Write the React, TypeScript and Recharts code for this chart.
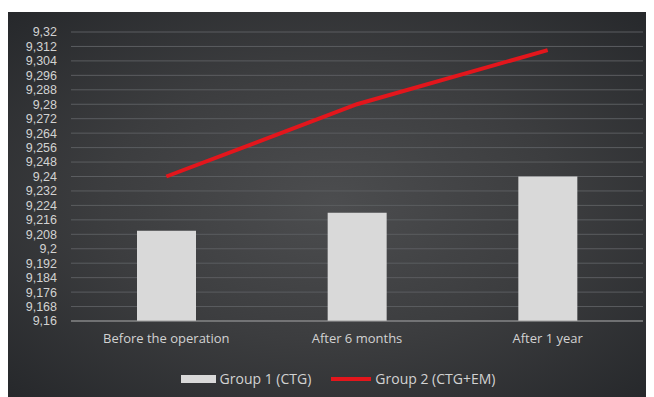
import { ComposedChart, Bar, Line, XAxis, YAxis, CartesianGrid } from "recharts";

const categories = ["Before the operation", "After 6 months", "After 1 year"];
const group1 = [9.21, 9.22, 9.24];
const group2 = [9.24, 9.28, 9.31];
const yTicks = [
  9.16, 9.168, 9.176, 9.184, 9.192, 9.2, 9.208, 9.216, 9.224, 9.232, 9.24,
  9.248, 9.256, 9.264, 9.272, 9.28, 9.288, 9.296, 9.304, 9.312, 9.32,
];
const seriesNames = ["Group 1 (CTG)", "Group 2 (CTG+EM)"];

const data = categories.map((name, i) => ({ name, g1: group1[i], g2: group2[i] }));

const font = "'Open Sans', sans-serif";
const tickFont = "'Liberation Sans', Arial, sans-serif";
const textColor = "#d2d2d2";

export default function App() {
  return (
    <div
      style={{
        position: "relative",
        width: 646,
        height: 385,
        marginTop: 4,
        background:
          "radial-gradient(ellipse at 50% 50%, #4c4d4f 0%, #3c3d3f 50%, #26282b 100%)",
        fontFamily: font,
      }}
    >
      <ComposedChart
        width={646}
        height={385}
        data={data}
        margin={{ top: 20, right: 11, bottom: 46, left: 0 }}
      >
        <CartesianGrid vertical={false} stroke="#5b5d60" strokeWidth={1} />
        <XAxis
          dataKey="name"
          height={30}
          tickLine={false}
          axisLine={{ stroke: "#9a9a9a" }}
          tickSize={6}
          tickMargin={7}
          tick={{ fill: textColor, fontSize: 13, fontFamily: font }}
        />
        <YAxis
          width={63}
          domain={[9.16, 9.32]}
          ticks={yTicks}
          interval={0}
          allowDataOverflow
          axisLine={false}
          tickLine={false}
          tickMargin={8}
          tick={{ fill: textColor, fontSize: 12.5, fontFamily: tickFont }}
          tickFormatter={(v: number) => String(v).replace(".", ",")}
        />
        <Bar dataKey="g1" name={seriesNames[0]} fill="#d9d9d9" barSize={59} isAnimationActive={false} />
        <Line
          dataKey="g2"
          name={seriesNames[1]}
          type="linear"
          stroke="#e3161c"
          strokeWidth={4}
          dot={false}
          activeDot={false}
          isAnimationActive={false}
        />
      </ComposedChart>
      <div
        style={{
          position: "absolute",
          left: 0,
          right: 0,
          top: 357,
          display: "flex",
          justifyContent: "center",
          alignItems: "center",
          gap: 20,
          fontSize: 14,
          color: textColor,
          paddingLeft: 14,
        }}
      >
        <div style={{ display: "flex", alignItems: "center", gap: 4 }}>
          <span style={{ width: 35, height: 8, background: "#d9d9d9", display: "inline-block" }} />
          <span>{seriesNames[0]}</span>
        </div>
        <div style={{ display: "flex", alignItems: "center", gap: 4 }}>
          <span style={{ width: 40, height: 4, background: "#e3161c", display: "inline-block" }} />
          <span>{seriesNames[1]}</span>
        </div>
      </div>
    </div>
  );
}
